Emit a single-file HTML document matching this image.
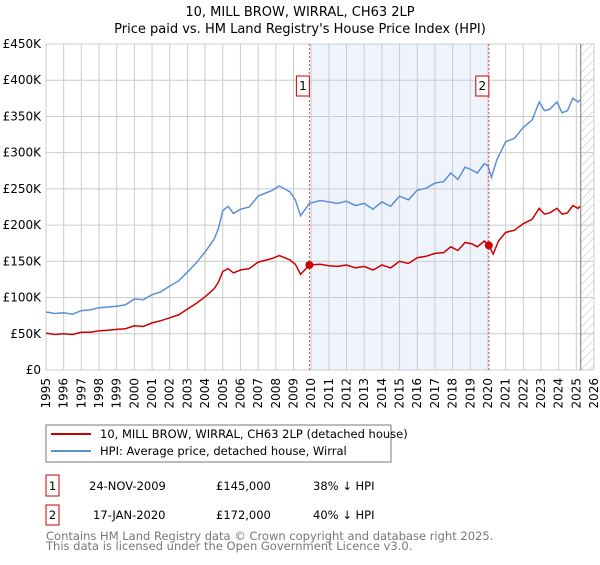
<!DOCTYPE html>
<html><head><meta charset="utf-8"><style>
body{margin:0;background:#fff;font-family:"Liberation Sans","DejaVu Sans",sans-serif;}
svg text{font-family:"DejaVu Sans","Liberation Sans",sans-serif;}
</style></head><body>
<svg id="chart" width="600" height="560">
<defs><pattern id="hatch" width="6" height="6" patternUnits="userSpaceOnUse" patternTransform="rotate(45)"><line x1="0" y1="0" x2="0" y2="6" stroke="#bbb" stroke-width="1"/></pattern></defs>
<text x="300" y="16" text-anchor="middle" font-size="13">10, MILL BROW, WIRRAL, CH63 2LP</text>
<text x="300" y="33" text-anchor="middle" font-size="13">Price paid vs. HM Land Registry's House Price Index (HPI)</text>
<g id="grid"></g><g id="marks"></g>
<rect x="46" y="425" width="345" height="37" fill="#fff" stroke="#777"/>
<line x1="51" y1="434" x2="91" y2="434" stroke="#cc0000" stroke-width="2"/>
<text x="100" y="438" font-size="11.5">10, MILL BROW, WIRRAL, CH63 2LP (detached house)</text>
<line x1="51" y1="451" x2="91" y2="451" stroke="#5b8fd6" stroke-width="2"/>
<text x="100" y="455" font-size="11.5">HPI: Average price, detached house, Wirral</text>
<g font-size="11.5">
<rect x="46" y="475" width="13" height="21" fill="#fff" stroke="#cc0000"/><text x="52.5" y="490" text-anchor="middle">1</text>
<text x="89" y="490">24-NOV-2009</text><text x="216" y="490">£145,000</text><text x="313" y="490">38% ↓ HPI</text></g>
<g font-size="11.5">
<rect x="46" y="505" width="13" height="20" fill="#fff" stroke="#cc0000"/><text x="52.5" y="519" text-anchor="middle">2</text>
<text x="93" y="519">17-JAN-2020</text><text x="216" y="519">£172,000</text><text x="313" y="519">40% ↓ HPI</text></g>
<text x="46" y="540" font-size="11.5" fill="#777">Contains HM Land Registry data © Crown copyright and database right 2025.</text>
<text x="46" y="550" font-size="11.5" fill="#777">This data is licensed under the Open Government Licence v3.0.</text>
</svg>
<script>
const yTicks=[0,50,100,150,200,250,300,350,400,450];
const yTickLabels=["£0","£50K","£100K","£150K","£200K","£250K","£300K","£350K","£400K","£450K"];
const years=[1995,1996,1997,1998,1999,2000,2001,2002,2003,2004,2005,2006,2007,2008,2009,2010,2011,2012,2013,2014,2015,2016,2017,2018,2019,2020,2021,2022,2023,2024,2025,2026];
const hpiT=[1995,1995.5,1996,1996.5,1997,1997.5,1998,1998.5,1999,1999.5,2000,2000.5,2001,2001.5,2002,2002.5,2003,2003.5,2004,2004.5,2004.75,2005,2005.3,2005.6,2006,2006.5,2007,2007.5,2007.8,2008.2,2008.5,2008.8,2009.1,2009.4,2009.9,2010.5,2011,2011.5,2012,2012.5,2013,2013.5,2014,2014.5,2015,2015.5,2016,2016.5,2017,2017.5,2017.9,2018.3,2018.7,2019.1,2019.4,2019.8,2020,2020.2,2020.5,2021,2021.5,2022,2022.5,2022.9,2023.2,2023.5,2023.9,2024.2,2024.5,2024.8,2025.1,2025.2];
const hpiV=[80,78,79,77,82,83,86,87,88,90,98,97,104,108,116,123,135,148,163,180,195,220,226,216,222,225,240,245,248,254,250,246,235,213,230,234,232,230,233,227,230,222,232,226,240,235,248,251,258,260,272,263,280,276,272,285,282,266,290,315,320,335,345,370,358,360,370,355,358,375,370,373];
const redT=[1995,1995.5,1996,1996.5,1997,1997.5,1998,1998.5,1999,1999.5,2000,2000.5,2001,2001.5,2002,2002.5,2003,2003.5,2004,2004.5,2004.75,2005,2005.3,2005.6,2006,2006.5,2007,2007.5,2007.8,2008.2,2008.5,2008.8,2009.1,2009.4,2009.9,2010.5,2011,2011.5,2012,2012.5,2013,2013.5,2014,2014.5,2015,2015.5,2016,2016.5,2017,2017.5,2017.9,2018.3,2018.7,2019.1,2019.4,2019.8,2020.05,2020.3,2020.6,2021,2021.5,2022,2022.5,2022.9,2023.2,2023.5,2023.9,2024.2,2024.5,2024.8,2025.1,2025.2];
const redV=[51,49,50,49,52,52,54,55,56,57,61,60,65,68,72,76,84,92,101,112,121,136,140,134,138,140,149,152,154,158,155,152,146,132,145,146,144,143,145,141,143,138,145,141,150,147,155,157,161,162,170,165,176,174,170,178,172,160,178,190,193,202,208,223,215,217,223,215,217,227,223,226];
const saleT=[2009.9,2020.05];
const saleV=[145,172];
const saleLabels=["1","2"];
const X0=46,X1=594,Y0=370,Y1=44;
const xs=t=>X0+(t-1995)/(2026-1995)*(X1-X0);
const ys=v=>Y0-v/450*(Y0-Y1);
const NS="http://www.w3.org/2000/svg";
function mk(tag,attrs,parent){const e=document.createElementNS(NS,tag);for(const k in attrs)e.setAttribute(k,attrs[k]);parent.appendChild(e);return e;}
const grid=document.getElementById('grid'),marks=document.getElementById('marks');
let sh=mk('rect',{x:xs(saleT[0]),y:Y1,width:xs(saleT[1])-xs(saleT[0]),height:Y0-Y1,fill:'#eef3fc'},grid);


let hz=mk('rect',{x:xs(2025.25),y:Y1,width:X1-xs(2025.25),height:Y0-Y1,fill:'url(#hatch)'},grid);


years.forEach(y=>{
  mk('line',{x1:xs(y),y1:Y1,x2:xs(y),y2:Y0,stroke:'#ccc'},grid);
  const t=mk('text',{x:0,y:0,'font-size':12,'text-anchor':'end',transform:`translate(${xs(y)+4},${Y0+8}) rotate(-90)`},grid);
  t.textContent=y;
  
  
});
yTicks.forEach((v,i)=>{
  mk('line',{x1:X0,y1:ys(v),x2:X1,y2:ys(v),stroke:'#ccc'},grid);
  const t=mk('text',{x:X0-5,y:ys(v)+4,'font-size':12,'text-anchor':'end'},grid);
  t.textContent=yTickLabels[i];
  
  
});
mk('line',{x1:xs(2025.25),y1:Y1,x2:xs(2025.25),y2:Y0,stroke:'#777'},grid);
saleT.forEach((t,i)=>{
  const l=mk('line',{x1:xs(t),y1:Y1,x2:xs(t),y2:Y0,stroke:'#e05050','stroke-dasharray':'2,2'},marks);
  
  
  const r=mk('rect',{x:xs(t)-13,y:76,width:13,height:20,fill:'#fff',stroke:'#cc0000'},marks);
  
  
  const tx=mk('text',{x:xs(t)-6.5,y:90,'font-size':12,'text-anchor':'middle'},marks);
  tx.textContent=saleLabels[i];
});
function line(T,V,color,name){
  const d=T.map((t,i)=>(i?'L':'M')+xs(t).toFixed(1)+','+ys(V[i]).toFixed(1)).join('');
  const p=mk('path',{d:d,fill:'none',stroke:color,'stroke-width':1.5},marks);
  
  
}
line(hpiT,hpiV,'#5b8fd6','hpi-line');
line(redT,redV,'#cc0000','property-price-line');
saleT.forEach((t,i)=>{
  const c=mk('circle',{cx:xs(t),cy:ys(saleV[i]),r:4,fill:'#cc0000'},marks);
  
  
});
</script>
</body></html>
